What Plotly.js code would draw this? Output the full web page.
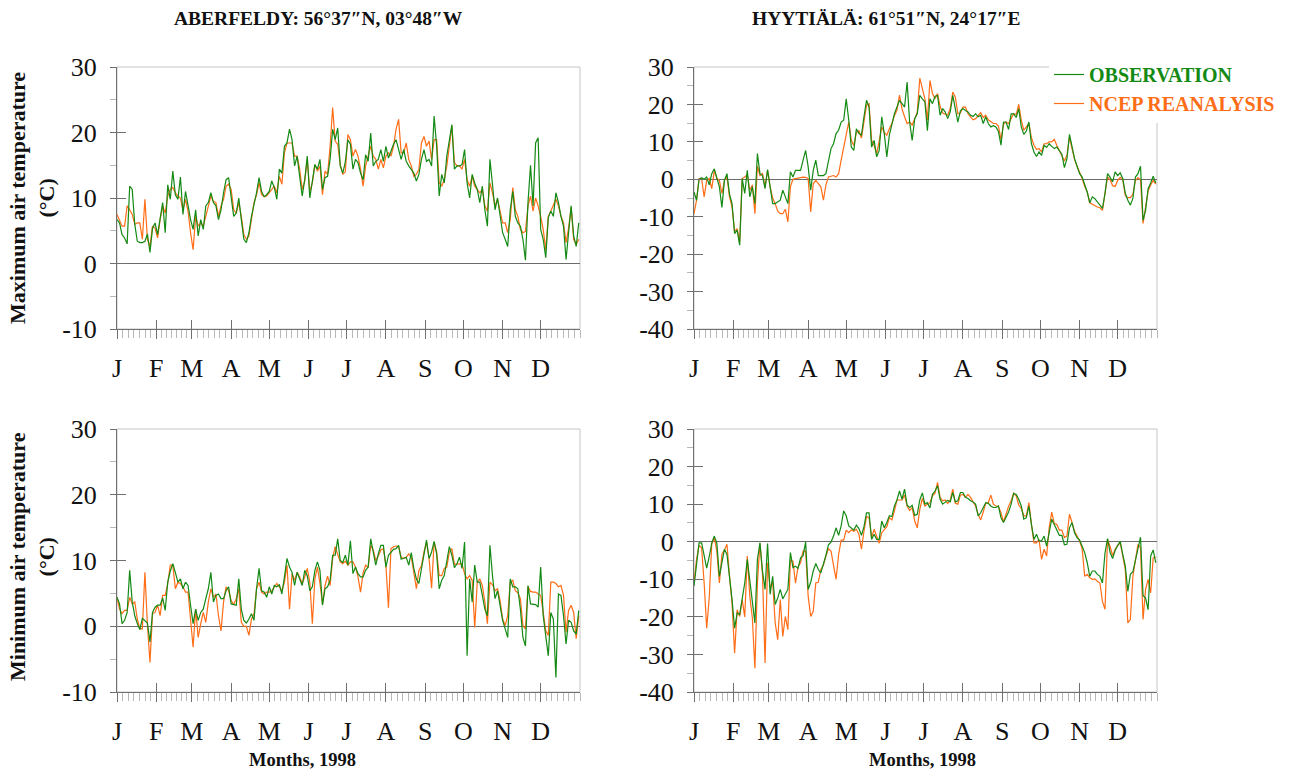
<!DOCTYPE html>
<html>
<head>
<meta charset="utf-8">
<script src="https://cdn.plot.ly/plotly-3.0.1.min.js"></script>
<style>
  html, body { margin: 0; padding: 0; background: #ffffff; }
  #chart { width: 1305px; height: 776px; }
</style>
</head>
<body>
<div id="chart"></div>
<script>
// Month ticks for 1998 (day-of-year of each month start)
const monthLabels = ['J', 'F', 'M', 'A', 'M', 'J', 'J', 'A', 'S', 'O', 'N', 'D'];
const monthStarts = [1, 32, 60, 91, 121, 152, 182, 213, 244, 274, 305, 335];
const monthLengths = [31, 28, 31, 30, 31, 30, 31, 31, 30, 31, 30, 31];

// Sample days (every second day of 1998)
const days = [];
for (let d = 1; d <= 365; d += 2) days.push(d);

// Aberfeldy, daily maximum air temperature (°C)
const aberTmaxObs = [
  6.7, 6.2, 4.4, 3.9, 3.0, 11.8, 11.3, 6.0, 3.4, 3.2,
  3.2, 3.4, 4.5, 1.7, 5.4, 6.2, 4.4, 7.2, 9.3, 4.7,
  12.0, 9.8, 14.1, 10.5, 9.8, 13.2, 7.5, 11.0, 8.5, 6.7,
  5.2, 8.2, 4.2, 6.7, 5.2, 8.8, 9.3, 10.8, 9.3, 8.8,
  6.7, 8.2, 10.8, 12.8, 13.1, 10.3, 7.2, 7.7, 10.0, 6.7,
  3.7, 3.2, 4.7, 7.2, 8.8, 10.8, 13.1, 11.0, 10.2, 10.5,
  11.0, 12.6, 11.6, 9.8, 14.4, 13.8, 17.9, 18.4, 20.5, 18.9,
  14.9, 16.4, 13.3, 10.3, 12.8, 16.4, 10.0, 12.8, 15.1, 14.4,
  15.9, 11.3, 13.1, 13.3, 15.9, 20.5, 18.9, 20.7, 14.9, 13.8,
  15.5, 18.9, 18.2, 14.4, 15.9, 15.4, 13.8, 12.8, 16.6, 15.6,
  19.9, 14.9, 15.6, 15.9, 17.4, 15.6, 17.9, 16.1, 17.2, 18.2,
  18.9, 17.4, 15.9, 17.4, 15.6, 14.9, 14.4, 13.8, 12.6, 13.6,
  15.9, 17.4, 15.6, 15.9, 14.9, 22.5, 17.9, 10.3, 13.6, 12.3,
  16.4, 19.2, 21.2, 14.4, 14.9, 14.9, 15.1, 17.4, 12.3, 10.0,
  13.6, 12.3, 11.3, 9.3, 11.8, 8.2, 5.7, 15.9, 12.3, 8.2,
  10.0, 7.5, 4.7, 3.7, 2.6, 8.2, 11.0, 7.2, 6.2, 5.7,
  3.7, 0.5, 9.3, 15.0, 8.8, 18.4, 19.2, 5.2, 3.7, 0.9,
  7.0, 8.0, 7.2, 10.8, 9.3, 7.2, 5.7, 0.6, 5.4, 8.8,
  4.2, 2.6, 6.2
];
const aberTmaxNcep = [
  7.5, 6.7, 5.7, 5.7, 8.8, 8.2, 7.5, 6.0, 6.2, 6.2,
  3.7, 9.8, 3.7, 2.6, 5.7, 5.4, 3.9, 6.7, 8.8, 7.7,
  10.3, 11.3, 11.6, 10.8, 10.3, 10.0, 8.2, 9.8, 8.0, 4.7,
  2.1, 7.2, 5.7, 6.2, 5.7, 7.2, 8.8, 10.3, 9.5, 9.3,
  7.2, 8.8, 9.8, 11.8, 12.1, 11.3, 8.2, 7.7, 9.3, 7.2,
  4.4, 3.7, 4.2, 6.7, 9.3, 10.5, 12.3, 10.5, 10.2, 10.3,
  10.8, 11.3, 11.8, 10.8, 13.3, 12.1, 16.9, 18.4, 18.4, 18.4,
  16.4, 16.4, 14.4, 11.3, 12.6, 15.9, 11.0, 12.3, 15.1, 14.1,
  14.9, 10.5, 14.1, 13.6, 17.9, 23.8, 18.7, 18.2, 15.1, 13.6,
  14.0, 19.7, 18.9, 16.4, 17.4, 16.4, 14.4, 11.8, 14.9, 16.4,
  17.9, 16.4, 15.9, 14.4, 15.9, 14.6, 16.4, 16.9, 16.4, 17.9,
  20.5, 22.0, 16.9, 16.9, 18.4, 15.9, 14.9, 13.3, 13.6, 14.4,
  18.4, 19.4, 17.9, 18.7, 15.9, 18.9, 18.9, 12.3, 11.8, 12.8,
  14.9, 17.9, 21.0, 15.4, 14.9, 14.9, 14.4, 15.9, 12.8, 11.8,
  13.3, 11.8, 11.3, 10.8, 11.3, 8.8, 8.0, 12.3, 10.8, 8.8,
  9.8, 7.7, 6.2, 6.2, 4.7, 6.7, 11.6, 8.2, 7.2, 5.2,
  4.7, 4.9, 8.8, 10.3, 8.0, 10.0, 8.8, 7.2, 5.2, 2.1,
  7.2, 8.0, 8.8, 9.8, 8.8, 7.2, 6.2, 3.2, 5.4, 8.5,
  3.7, 2.9, 3.7
];

// Hyytiälä, daily maximum air temperature (°C)
const hyyTmaxObs = [
  -3.4, -5.6, 0.0, 0.4, 0.0, 0.6, -1.5, 1.5, 2.8, 0.5,
  -2.0, -7.5, -0.3, 1.5, -4.0, -6.5, -14.5, -13.6, -17.6, 0.2,
  -3.8, 2.4, -4.7, -2.0, -6.5, 6.9, 1.5, 1.0, -2.5, 2.6,
  -2.5, -6.5, -6.5, -6.0, -5.6, -2.9, -4.7, -6.5, 2.0, 0.6,
  2.4, 2.4, 2.4, 5.1, 7.7, 3.3, -2.9, 2.4, 5.1, 1.0,
  1.0, 1.0, 1.5, 5.1, 8.2, 9.5, 12.2, 13.1, 15.3, 15.8,
  21.5, 15.8, 8.6, 7.7, 13.5, 12.2, 11.8, 16.7, 21.1, 19.3,
  8.6, 10.4, 6.0, 7.7, 16.7, 12.2, 6.0, 11.8, 14.9, 17.5,
  19.3, 21.1, 20.2, 19.3, 26.0, 15.3, 10.4, 16.2, 17.5, 22.4,
  21.5, 20.7, 13.0, 21.5, 20.2, 22.2, 22.4, 17.1, 18.9, 18.0,
  16.2, 18.0, 22.4, 19.3, 15.3, 18.3, 18.9, 18.4, 18.0, 17.1,
  16.8, 17.5, 16.7, 17.1, 14.9, 16.7, 14.9, 14.0, 14.3, 14.0,
  12.8, 9.1, 15.3, 15.3, 13.3, 17.5, 17.5, 16.5, 18.9, 14.0,
  12.0, 12.9, 15.3, 9.5, 7.3, 6.1, 7.3, 6.4, 9.1, 8.5,
  9.5, 8.8, 8.2, 8.6, 7.6, 6.7, 3.1, 5.5, 12.0, 9.1,
  5.5, 3.5, 1.5, 0.6, -1.3, -3.4, -6.3, -4.7, -5.2, -6.1,
  -7.1, -7.8, -3.8, 1.5, 0.6, -0.7, 2.0, 1.0, 1.7, 0.2,
  -3.7, -5.6, -6.9, -5.1, 0.6, 1.5, 3.5, -11.0, -8.3, -2.5,
  -1.0, 0.8, -1.0
];
const hyyTmaxNcep = [
  -9.2, -5.6, 0.2, 0.2, -4.7, -0.3, 0.2, -2.5, 2.4, 0.2,
  -0.3, -3.8, -0.3, 0.6, -4.7, -7.4, -14.0, -13.2, -16.7, 0.2,
  0.6, 1.2, -2.9, -1.5, -9.2, 3.5, 1.0, 1.5, -2.0, 2.4,
  -2.0, -5.0, -6.5, -8.5, -9.2, -9.2, -8.0, -11.4, -2.0, 0.0,
  0.2, 0.4, 0.4, 0.6, 0.5, 0.2, -8.7, -1.2, -0.3, -1.2,
  -2.0, -5.6, -1.5, 0.6, 0.8, 1.0, 0.6, 1.5, 5.1, 8.2,
  12.0, 15.3, 10.4, 9.0, 12.5, 13.0, 11.0, 15.0, 19.8, 20.2,
  10.4, 9.0, 6.9, 10.2, 14.0, 12.5, 11.8, 13.5, 14.9, 17.0,
  18.5, 22.5, 18.8, 16.7, 14.9, 15.3, 14.5, 16.2, 17.9, 27.0,
  24.0, 21.5, 15.8, 26.4, 22.9, 21.5, 22.9, 19.5, 17.7, 17.4,
  17.1, 18.9, 23.3, 22.0, 17.5, 17.7, 19.3, 19.3, 17.5, 16.7,
  15.9, 16.2, 17.1, 17.8, 16.5, 17.1, 15.9, 15.3, 14.9, 14.9,
  14.2, 10.6, 14.7, 15.3, 14.9, 16.2, 17.5, 17.3, 20.0, 15.8,
  13.1, 14.0, 14.9, 11.1, 9.1, 8.0, 8.2, 7.3, 9.5, 9.5,
  10.0, 10.0, 10.7, 9.1, 7.7, 6.6, 4.9, 6.4, 11.3, 8.2,
  5.3, 3.5, 2.0, 0.2, -1.9, -3.4, -6.3, -6.7, -7.2, -7.4,
  -7.6, -8.3, -3.8, 0.6, -0.1, -1.7, -1.9, -0.3, 0.5, -0.1,
  -4.4, -4.9, -4.9, -4.0, -0.3, 0.4, -0.1, -11.8, -7.4, -3.1,
  -1.5, -0.3, -1.3
];

// Aberfeldy, daily minimum air temperature (°C)
const aberTminObs = [
  4.4, 3.4, 0.4, 0.9, 2.1, 8.5, 3.7, 1.6, 0.4, -0.5,
  1.2, 0.9, 0.5, -2.4, 2.1, 2.9, 3.2, 3.2, 4.3, 2.4,
  6.7, 8.4, 9.5, 8.2, 6.7, 7.2, 5.7, 6.7, 6.2, 3.2,
  0.4, 2.6, 0.9, 2.1, 2.6, 4.2, 5.7, 8.2, 3.7, 4.7,
  4.9, 4.2, 4.2, 5.4, 6.0, 3.4, 3.3, 3.2, 7.2, 2.6,
  0.9, 0.5, 1.1, 1.9, 0.9, 5.7, 8.8, 5.4, 5.2, 4.4,
  6.0, 4.9, 6.2, 6.0, 6.3, 4.9, 7.5, 10.3, 9.0, 8.2,
  6.2, 8.2, 7.2, 6.2, 8.5, 7.7, 5.4, 6.0, 8.5, 9.8,
  8.5, 3.2, 5.7, 6.0, 7.0, 10.8, 10.8, 13.3, 10.0, 9.7,
  10.8, 9.3, 13.0, 8.0, 9.0, 8.0, 7.5, 7.5, 8.5, 9.0,
  13.3, 11.3, 9.3, 11.0, 12.3, 12.3, 9.0, 10.8, 11.3, 11.7,
  11.8, 12.3, 10.2, 10.3, 10.5, 9.3, 11.2, 8.8, 7.2, 6.5,
  8.8, 11.0, 13.1, 10.3, 11.3, 12.9, 11.0, 5.7, 7.0, 7.7,
  9.9, 12.1, 10.8, 8.9, 9.5, 10.5, 8.8, 12.8, -4.5, 7.2,
  3.7, 9.3, 6.7, 6.7, 4.7, 2.6, 1.6, 12.3, 7.7, 4.2,
  5.4, 3.4, 0.9, -0.4, -1.7, 7.2, 6.0, 6.0, 5.7, 2.6,
  -1.7, -3.0, 6.2, 3.4, 3.4, 3.3, 2.9, 9.0, 1.6, -1.9,
  -4.5, 2.1, 1.1, -7.8, 4.9, 4.7, 1.6, -2.7, 0.9, 0.6,
  -0.7, -1.2, 2.4
];
const aberTminNcep = [
  4.4, 2.6, 1.9, 2.4, 2.4, 4.4, 3.4, 3.7, 1.1, -0.4,
  -0.4, 8.2, 0.1, -5.5, 1.9, 2.1, 3.2, 1.6, 4.7, 4.7,
  6.5, 9.3, 9.3, 5.7, 6.7, 6.5, 6.0, 5.2, 5.2, 1.1,
  -3.2, 2.6, -1.7, 0.4, 2.1, 0.6, 3.7, 5.7, 4.4, 4.9,
  1.6, -0.7, 3.7, 6.0, 5.4, 3.9, 3.3, 4.2, 5.7, 0.6,
  0.0, 0.0, -1.4, 1.1, 1.9, 5.7, 6.7, 5.2, 4.9, 5.2,
  5.2, 5.4, 6.0, 6.5, 6.0, 5.4, 6.7, 9.3, 2.6, 8.0,
  7.0, 8.2, 7.5, 6.5, 7.5, 8.8, 6.7, 0.4, 7.2, 9.0,
  6.5, 3.4, 6.2, 7.6, 6.2, 10.3, 12.1, 10.8, 9.8, 9.5,
  9.9, 9.3, 9.8, 9.8, 9.0, 7.5, 5.2, 8.1, 9.3, 8.9,
  12.3, 11.6, 10.0, 10.7, 11.6, 11.8, 9.3, 2.8, 11.8, 12.1,
  12.2, 12.1, 10.5, 10.3, 10.5, 11.0, 10.5, 8.2, 5.7, 8.5,
  9.2, 11.3, 12.8, 10.3, 5.8, 12.8, 11.3, 7.7, 7.7, 8.8,
  9.0, 11.3, 11.8, 9.4, 9.5, 9.5, 9.5, 8.0, 7.2, 7.7,
  7.0, -0.2, 6.7, 7.2, 6.2, 3.7, 0.4, 6.7, 6.3, 5.4,
  5.7, 3.9, 1.1, 0.1, 1.6, 6.7, 7.0, 5.4, 5.1, 4.2,
  0.1, -0.4, 6.0, 5.3, 5.2, 5.2, 4.9, 4.7, 2.1, -0.7,
  -1.4, 6.7, 6.7, 6.5, 6.0, 6.2, 4.7, -0.9, 2.4, 3.2,
  2.1, -1.9, 1.6
];

// Hyytiälä, daily minimum air temperature (°C)
const hyyTminObs = [
  -11.8, -6.5, -0.3, -0.3, -3.4, -7.0, -4.0, -0.3, 1.5, -0.4,
  -9.2, -5.6, -2.0, -3.4, -9.2, -15.4, -23.0, -19.0, -19.4, -15.4,
  -11.0, -4.7, -10.5, -15.0, -21.6, -4.7, -0.3, -7.8, -12.7, -0.5,
  -14.0, -9.2, -16.7, -15.0, -12.7, -15.2, -14.1, -12.7, -2.9, -6.9,
  -6.5, -7.1, -4.3, -3.7, -0.1, -12.7, -10.8, -7.8, -5.8, -7.4,
  -8.3, -6.1, -3.6, -0.8, -0.1, 1.5, 3.7, 1.7, 4.2, 8.2,
  6.9, 4.2, 3.7, 3.1, 4.4, 3.5, 1.7, 4.0, 7.7, 7.7,
  0.6, 2.0, 0.6, 0.6, 5.5, 3.7, 5.1, 6.9, 6.7, 9.5,
  11.1, 13.5, 11.3, 14.0, 9.7, 9.1, 9.7, 7.0, 7.3, 11.1,
  13.0, 10.0, 10.4, 9.0, 12.6, 13.5, 14.9, 11.3, 10.0, 10.4,
  11.0, 10.6, 13.1, 10.6, 10.9, 13.1, 13.1, 11.8, 11.5, 10.9,
  10.6, 10.0, 6.9, 7.7, 9.1, 10.4, 10.2, 9.5, 9.1, 9.1,
  9.5, 6.4, 5.1, 6.4, 7.9, 10.0, 12.9, 12.6, 11.3, 9.5,
  6.0, 6.4, 9.5, 4.6, 0.6, 2.0, 0.2, 0.2, 1.5, -1.2,
  2.0, 6.0, 4.6, 3.1, 1.7, 1.7, -0.8, -0.7, 3.7, 5.1,
  2.4, 1.1, 0.4, -1.2, -2.9, -5.6, -9.2, -7.8, -7.8, -8.7,
  -9.2, -11.0, -3.0, 0.8, -2.8, -4.5, -2.3, -1.0, 0.1, -3.4,
  -6.5, -13.2, -8.7, -8.0, -4.7, -1.2, 1.2, -14.3, -15.0, -18.1,
  -3.8, -2.2, -5.6
];
const hyyTminNcep = [
  -11.0, -4.7, -1.0, -1.6, -11.0, -23.0, -15.0, -0.7, 1.1, -2.5,
  -11.0, -3.4, -2.2, -0.7, -9.2, -16.3, -29.7, -18.1, -19.9, -15.4,
  -20.0, -3.8, -14.5, -20.3, -33.7, -11.0, -0.4, -8.7, -32.3, -5.6,
  -12.3, -10.8, -21.6, -26.1, -15.4, -25.2, -19.9, -23.4, -4.9, -5.2,
  -11.0, -6.7, -5.6, -2.5, -2.5, -14.5, -19.9, -18.5, -11.0, -10.8,
  -7.4, -6.3, -3.8, -1.9, -2.5, -6.5, -10.0, -3.4, 0.4, 0.4,
  3.1, 2.4, 3.1, 2.8, 3.3, 2.0, -2.0, 2.8, 6.7, 6.4,
  1.1, 3.3, 1.3, -0.4, 2.4, 3.3, 4.0, 6.4, 5.8, 8.2,
  11.1, 11.1, 11.1, 12.4, 9.5, 8.3, 9.1, 5.5, 3.7, 8.6,
  11.5, 9.5, 10.0, 10.4, 12.2, 12.9, 15.8, 11.8, 10.9, 11.1,
  10.2, 11.1, 14.0, 10.2, 10.0, 12.4, 12.6, 11.8, 12.6, 11.8,
  10.6, 9.5, 7.3, 5.8, 7.9, 10.2, 10.4, 12.4, 10.0, 9.5,
  9.4, 7.7, 5.3, 7.6, 9.4, 10.9, 12.9, 12.2, 9.7, 8.9,
  6.9, 6.9, 10.4, 4.6, -0.3, -0.3, 0.6, -4.7, -2.0, -3.8,
  3.7, 7.9, 4.9, 4.6, 3.1, 3.1, 1.1, 1.5, 7.3, 5.1,
  2.8, 1.5, 0.2, -1.9, -9.2, -8.7, -9.6, -10.0, -9.9, -10.5,
  -11.0, -15.9, -18.0, 0.6, -1.2, -3.7, -2.0, -1.0, -0.3, -3.8,
  -7.4, -21.6, -20.7, -9.2, -4.7, -0.7, -1.6, -20.7, -12.7, -10.0,
  -13.6, -4.3, -4.1
];

const siteTitles = ['ABERFELDY: 56\u00b037\u2033N, 03\u00b048\u2033W', 'HYYTI\u00c4L\u00c4: 61\u00b051\u2033N, 24\u00b017\u2033E'];
const seriesNames = ['OBSERVATION', 'NCEP REANALYSIS'];
const obsColor = '#148a14';
const ncepColor = '#ff6d17';

// Minor ticks: each month split into seven equal steps
const minorDays = [];
monthStarts.forEach((s, i) => {
  for (let k = 1; k < 7; k++) minorDays.push(s + k * monthLengths[i] / 7);
});
minorDays.push(366);

const W = 1305, H = 776;
const fx = p => p / W;
const fy = p => 1 - p / H;
const colDomains = [[fx(117), fx(580)], [fx(694), fx(1157)]];
const rowDomains = [[fy(329), fy(67)], [fy(692), fy(429)]];

const serif = 'Liberation Serif, Times New Roman, serif';
const tickFont = { family: serif, size: 26, color: '#111111' };
const axisGrey = '#707070';
const minorGrey = '#b8b8b8';

const panels = [
  { obs: aberTmaxObs, ncep: aberTmaxNcep, col: 0, row: 0, range: [-10, 30], vals: [-10, 0, 10, 20, 30] },
  { obs: hyyTmaxObs, ncep: hyyTmaxNcep, col: 1, row: 0, range: [-40, 30], vals: [-40, -30, -20, -10, 0, 10, 20, 30] },
  { obs: aberTminObs, ncep: aberTminNcep, col: 0, row: 1, range: [-10, 30], vals: [-10, 0, 10, 20, 30] },
  { obs: hyyTminObs, ncep: hyyTminNcep, col: 1, row: 1, range: [-40, 30], vals: [-40, -30, -20, -10, 0, 10, 20, 30] }
];

const traces = [];
const layout = {
  width: W, height: H,
  margin: { l: 0, r: 0, t: 0, b: 0 },
  paper_bgcolor: '#ffffff',
  plot_bgcolor: '#ffffff',
  showlegend: true,
  legend: {
    x: fx(1049), y: fy(55), xanchor: 'left', yanchor: 'top',
    bgcolor: '#ffffff', borderwidth: 0,
    font: { family: serif, size: 20, color: '#111111' },
    tracegroupgap: 0, itemwidth: 30
  },
  shapes: [],
  annotations: []
};

panels.forEach((p, i) => {
  const n = i + 1;
  const sx = n === 1 ? '' : String(n);
  const xa = 'x' + sx, ya = 'y' + sx;

  traces.push({
    type: 'scatter', mode: 'lines', x: days, y: p.ncep, xaxis: xa, yaxis: ya,
    name: '<b><span style="color:' + ncepColor + '">' + seriesNames[1] + '</span></b>',
    line: { color: ncepColor, width: 1.2 }, legendrank: 2, showlegend: i === 0, hoverinfo: 'skip'
  });
  traces.push({
    type: 'scatter', mode: 'lines', x: days, y: p.obs, xaxis: xa, yaxis: ya,
    name: '<b><span style="color:' + obsColor + '">' + seriesNames[0] + '</span></b>',
    line: { color: obsColor, width: 1.2 }, legendrank: 1, showlegend: i === 0, hoverinfo: 'skip'
  });
  // carriers for the overlay axes that draw the inward tick marks
  traces.push({ type: 'scatter', mode: 'lines', x: [], y: [], xaxis: 'x' + (n + 4), yaxis: ya, showlegend: false, hoverinfo: 'skip' });
  traces.push({ type: 'scatter', mode: 'lines', x: [], y: [], xaxis: xa, yaxis: 'y' + (n + 4), showlegend: false, hoverinfo: 'skip' });

  const xKey = 'xaxis' + sx, yKey = 'yaxis' + sx;
  layout[xKey] = {
    domain: colDomains[p.col], anchor: ya, range: [1, 366],
    showline: true, linecolor: axisGrey, linewidth: 1,
    ticks: 'outside', ticklen: 9, tickwidth: 1, tickcolor: axisGrey,
    tickmode: 'array', tickvals: monthStarts, ticktext: monthLabels,
    tickfont: tickFont, ticklabelstandoff: 7,
    showgrid: false, zeroline: false, fixedrange: true,
    minor: { tickmode: 'array', tickvals: minorDays, ticks: 'outside', ticklen: 8, tickwidth: 1, tickcolor: minorGrey, showgrid: false }
  };
  layout[yKey] = {
    domain: rowDomains[p.row], anchor: xa, range: p.range,
    showline: true, linecolor: axisGrey, linewidth: 1,
    ticks: 'outside', ticklen: 6, tickwidth: 1, tickcolor: axisGrey,
    tickmode: 'array', tickvals: p.vals, ticktext: p.vals.map(v => String(v)),
    tickfont: tickFont, ticklabelstandoff: 8,
    showgrid: false, zeroline: true, zerolinecolor: '#6a6a6a', zerolinewidth: 1, fixedrange: true,
    minor: { tickmode: 'linear', tick0: 0, dtick: 5, ticks: 'outside', ticklen: 6, tickwidth: 1, tickcolor: minorGrey, showgrid: false }
  };
  layout['xaxis' + (n + 4)] = {
    overlaying: xa, anchor: ya, range: [1, 366],
    ticks: 'inside', ticklen: 9, tickwidth: 1, tickcolor: axisGrey,
    tickmode: 'array', tickvals: monthStarts, showticklabels: false,
    showline: false, showgrid: false, zeroline: false, fixedrange: true
  };
  layout['yaxis' + (n + 4)] = {
    overlaying: ya, anchor: xa, range: p.range,
    ticks: 'inside', ticklen: 9, tickwidth: 1, tickcolor: axisGrey,
    tickmode: 'array', tickvals: p.vals.filter(v => v % 10 === 0), showticklabels: false,
    showline: false, showgrid: false, zeroline: false, fixedrange: true
  };

  // light frame around each panel
  layout.shapes.push({
    type: 'rect', xref: xa + ' domain', yref: ya + ' domain',
    x0: 0, x1: 1, y0: 0, y1: 1, layer: 'below',
    line: { color: '#c6c6c6', width: 1 }, fillcolor: 'rgba(0,0,0,0)'
  });
});

const boldFont = (size) => ({ family: serif, size: size, color: '#111111', weight: 'bold' });

layout.annotations.push(
  { text: '<b>' + siteTitles[0] + '</b>', xref: 'paper', yref: 'paper', x: fx(318), y: fy(18), xanchor: 'center', yanchor: 'middle', showarrow: false, font: boldFont(19.5) },
  { text: '<b>' + siteTitles[1] + '</b>', xref: 'paper', yref: 'paper', x: fx(886), y: fy(18), xanchor: 'center', yanchor: 'middle', showarrow: false, font: boldFont(19.5) },
  { text: '<b>Maximum air temperature<br>(\u00b0C)</b>', xref: 'paper', yref: 'paper', x: fx(32), y: fy(198), xanchor: 'center', yanchor: 'middle', textangle: -90, showarrow: false, font: boldFont(22) },
  { text: '<b>Minimum air temperature<br>(\u00b0C)</b>', xref: 'paper', yref: 'paper', x: fx(32), y: fy(557), xanchor: 'center', yanchor: 'middle', textangle: -90, showarrow: false, font: boldFont(22) },
  { text: '<b>Months, 1998</b>', xref: 'paper', yref: 'paper', x: fx(302), y: fy(760), xanchor: 'center', yanchor: 'middle', showarrow: false, font: boldFont(18.5) },
  { text: '<b>Months, 1998</b>', xref: 'paper', yref: 'paper', x: fx(922), y: fy(760), xanchor: 'center', yanchor: 'middle', showarrow: false, font: boldFont(18.5) }
);

Plotly.newPlot('chart', traces, layout, { staticPlot: true, displayModeBar: false });
</script>
</body>
</html>
